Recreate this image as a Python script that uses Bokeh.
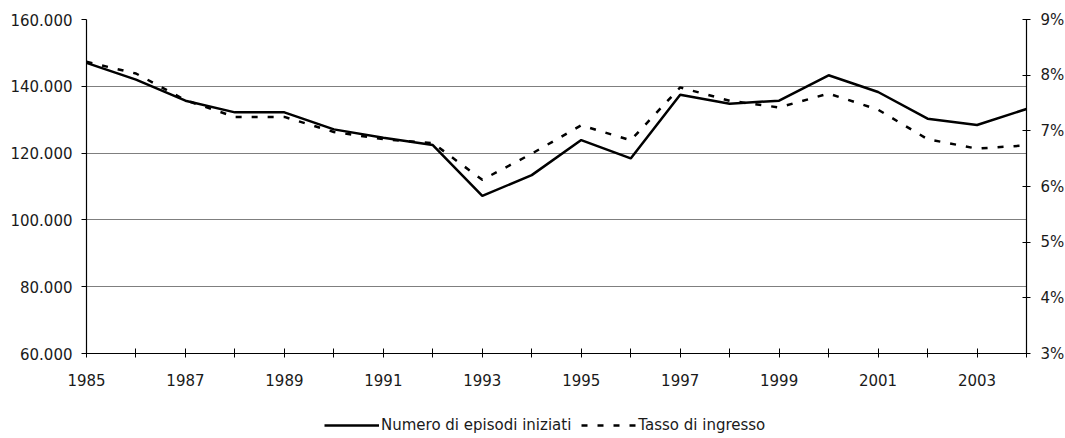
from bokeh.plotting import figure
from bokeh.layouts import column
from bokeh.models import (Range1d, LinearAxis, FixedTicker, Legend, LegendItem)
from bokeh.embed import file_html
from bokeh.resources import INLINE

years = list(range(1985, 2005))
episodi = [147000, 142000, 135700, 132200, 132200, 127100, 124600, 122400, 107200, 113400,
           123900, 118400, 137500, 134800, 135700, 143300, 138300, 130300, 128400, 133200]
tasso = [8.24, 8.03, 7.55, 7.25, 7.25, 6.98, 6.85, 6.78, 6.12, 6.59,
         7.10, 6.83, 7.78, 7.54, 7.42, 7.67, 7.38, 6.85, 6.68, 6.74]
left_ticks = [60000, 80000, 100000, 120000, 140000, 160000]
left_labels = ["60.000", "80.000", "100.000", "120.000", "140.000", "160.000"]
right_ticks = [3, 4, 5, 6, 7, 8, 9]
right_labels = ["3%", "4%", "5%", "6%", "7%", "8%", "9%"]
x_labels = {y: (str(y) if (y - 1985) % 2 == 0 else "") for y in years}
series_names = ["Numero di episodi iniziati", "Tasso di ingresso"]

FONT = "DejaVu Sans"

p = figure(frame_width=940, frame_height=334, output_backend="svg", toolbar_location=None,
           x_range=Range1d(1985, 2004), y_range=Range1d(60000, 160000),
           min_border_left=86, min_border_right=38, min_border_top=19, min_border_bottom=40)
p.outline_line_color = None
p.extra_y_ranges = {"pct": Range1d(3, 9)}

# axes
p.xaxis.ticker = FixedTicker(ticks=years)
p.xaxis.major_label_overrides = x_labels
p.xaxis.minor_tick_line_color = None
p.xaxis.major_tick_in = 5
p.xaxis.major_tick_out = 4
p.xaxis.axis_line_color = "black"
p.xaxis.major_tick_line_color = "black"
p.xaxis.major_label_standoff = 16

p.yaxis.ticker = FixedTicker(ticks=left_ticks)
p.yaxis.major_label_overrides = {t: l for t, l in zip(left_ticks, left_labels)}
p.yaxis.minor_tick_line_color = None
p.yaxis.major_tick_in = 0
p.yaxis.major_tick_out = 5
p.yaxis.major_label_standoff = 9

ra = LinearAxis(y_range_name="pct", ticker=FixedTicker(ticks=right_ticks))
ra.major_label_overrides = {t: l for t, l in zip(right_ticks, right_labels)}
ra.minor_tick_line_color = None
ra.major_tick_in = 4
ra.major_tick_out = 4
ra.major_label_standoff = 10
p.add_layout(ra, "right")

for ax in [p.xaxis[0], p.yaxis[0], ra]:
    ax.major_label_text_font = FONT
    ax.major_label_text_font_size = "15px"
    ax.major_label_text_color = "#1a1a1a"
    ax.axis_line_width = 1.2

p.xgrid.grid_line_color = None
p.ygrid.ticker = FixedTicker(ticks=left_ticks[1:])
p.ygrid.grid_line_color = "#7f7f7f"
p.ygrid.grid_line_width = 1

p.line(years, episodi, line_color="black", line_width=2.5)
p.line(years, tasso, y_range_name="pct", line_color="black", line_width=2.5,
       line_dash="6 10")

# legend strip below the chart (its frame range hides the series itself)
lf = figure(width=1064, height=45, output_backend="svg", toolbar_location=None,
            x_range=Range1d(0, 1), y_range=Range1d(0, 1), min_border=0,
            x_axis_type=None, y_axis_type=None)
lf.outline_line_color = None
lf.xgrid.grid_line_color = None
lf.ygrid.grid_line_color = None
k1 = lf.line(years, episodi, line_color="black", line_width=2.5)
k2 = lf.line(years, tasso, line_color="black", line_width=2.5, line_dash="6 10")

legend = Legend(items=[LegendItem(label=series_names[0], renderers=[k1]),
                       LegendItem(label=series_names[1], renderers=[k2])],
                orientation="horizontal", location=(238, 4),
                glyph_width=55, glyph_height=14, label_standoff=2, spacing=10,
                padding=0, margin=0, border_line_color=None, background_fill_alpha=0,
                label_text_font=FONT, label_text_font_size="15px",
                label_text_color="#1a1a1a")
lf.add_layout(legend, "center")

layout = column(p, lf, spacing=0)
open("out.html", "w").write(file_html(layout, INLINE))
